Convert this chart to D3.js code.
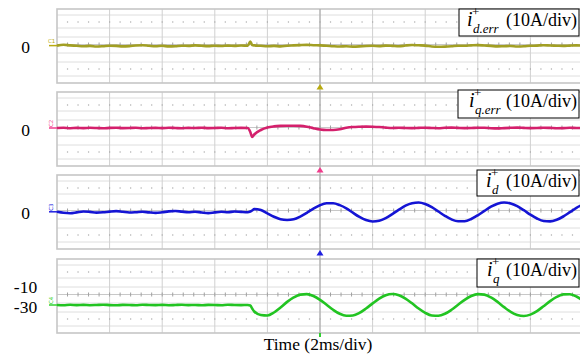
<!DOCTYPE html>
<html>
<head>
<meta charset="utf-8">
<script src="https://cdn.jsdelivr.net/npm/d3@7"></script>
<style>
  body { margin: 0; background: #fff; }
  svg { display: block; }
</style>
</head>
<body>
<div class="scope"></div>
<script>
const WIDTH = 580;
const HEIGHT = 356;

// sample times (ms), two extra samples around the load step
const time = [0, 0.25, 0.5, 0.75, 1, 1.25, 1.5, 1.75, 2, 2.25, 2.5, 2.75, 3, 3.25, 3.5, 3.75,
  4, 4.25, 4.5, 4.75, 5, 5.25, 5.5, 5.75, 6, 6.25, 6.5, 6.75, 7, 7.25, 7.35, 7.42,
  7.5, 7.75, 8, 8.25, 8.5, 8.75, 9, 9.25, 9.5, 9.75, 10, 10.25, 10.5, 10.75, 11, 11.25,
  11.5, 11.75, 12, 12.25, 12.5, 12.75, 13, 13.25, 13.5, 13.75, 14, 14.25, 14.5, 14.75,
  15, 15.25, 15.5, 15.75, 16, 16.25, 16.5, 16.75, 17, 17.25, 17.5, 17.75, 18, 18.25,
  18.5, 18.75, 19, 19.25, 19.5, 19.75, 20];

// currents (A)
const idErr = [0.4, 1.2, 0.6, 0.2, -0.3, 0.1, -0.5, -0.2, 0.3, 0.1, -0.4, -0.1, 0.5, 0.8, 0.2, -0.3,
  0.2, -0.4, -0.2, 0.3, 0.1, 0.6, 0.2, -0.1, 0.3, 0.0, 0.4, 0.1, 0.5, 0.2, 4.5, 1.0,
  0.6, 0.2, -0.3, 0.1, -0.4, 0.3, 0.6, 0.9, 1.1, 0.8, 0.6, 0.3, -0.2, -0.5, -0.3, -0.6,
  -0.4, 0.0, 0.2, -0.1, 0.4, 0.1, -0.3, 0.5, 1.0, 0.7, 0.4, -0.5, -0.8, -0.6,
  -0.2, 0.3, 0.2, 0.6, 0.9, 0.5, 0.1, -0.4, -0.2, 0.0, -0.5, -0.3, 0.2, 0.4,
  0.8, 0.5, 0.3, 0.1, 0.4, 0.6, 0.3];

const iqErr = [1.0, 1.3, 0.8, 1.1, 0.9, 1.2, 1.0, 0.7, 1.1, 1.3, 0.9, 1.0, 1.2, 0.8, 1.0, 1.1,
  0.9, 1.2, 1.0, 0.8, 1.1, 1.0, 1.3, 0.9, 1.0, 1.2, 0.8, 1.0, 1.1, 1.0, -3.0, -8.0,
  -5.5, -1.0, 1.5, 2.6, 3.1, 3.3, 3.3, 3.1, 2.3, 0.8, -0.5, -1.0, -1.0, -0.3, 1.2, 2.0,
  2.3, 2.4, 2.3, 2.0, 1.4, 1.0, 1.2, 1.0, 0.9, 1.1, 1.3, 1.0, 0.8, 1.2,
  1.4, 1.1, 0.9, 1.0, 1.3, 1.2, 0.8, 0.6, 0.9, 1.2, 1.4, 1.1, 0.9, 1.0,
  1.3, 1.1, 0.8, 0.9, 1.2, 1.0, 1.1];

const id = [0.2, -0.8, -1.2, -0.4, 0.5, 0.1, -0.6, -0.3, 0.4, 0.9, 0.2, -0.5, -0.2, 0.3, -0.4, -0.9,
  -0.3, 0.6, 1.0, 0.4, -0.2, 0.3, -0.5, -1.1, -0.4, 0.2, -0.3, 0.5, 0.1, -0.2, 0.5, 1.5,
  3.0, 2.0, -1.4, -4.7, -7.3, -8.0, -7.3, -4.6, -0.8, 3.3, 6.8, 8.7, 8.8, 6.9, 3.7, -0.7,
  -4.9, -8.1, -9.5, -8.8, -6.1, -2.1, 2.3, 6.3, 8.8, 9.5, 8.0, 4.8, 0.5, -3.8,
  -7.4, -9.3, -9.2, -7.0, -3.3, 1.1, 5.3, 8.3, 9.5, 8.6, 5.8, 1.8, -2.7, -6.5,
  -9.0, -9.4, -7.8, -4.5, -0.2, 4.2, 7.6];

const iq = [-29.0, -29.3, -28.8, -29.1, -28.9, -29.2, -29.0, -28.7, -29.1, -29.3, -28.9, -29.0, -29.2, -28.8, -29.0, -29.1,
  -28.9, -29.2, -29.0, -28.8, -29.1, -29.0, -29.3, -28.9, -29.0, -29.2, -28.8, -29.0, -29.1, -29.0, -29.5, -32.5,
  -35.5, -39.0, -39.5, -36.5, -31.5, -25.9, -21.4, -18.6, -18.1, -20.0, -23.8, -28.8, -33.8, -37.8, -39.8, -39.5,
  -36.9, -32.5, -27.4, -22.6, -19.2, -18.0, -19.2, -22.6, -27.3, -32.5, -36.8, -39.5, -39.8, -37.8,
  -33.8, -28.8, -23.8, -20.0, -18.1, -18.6, -21.4, -25.9, -31.1, -35.8, -39.0, -40.0, -38.6, -35.1,
  -30.2, -25.1, -20.9, -18.4, -18.2, -20.5, -24.6];

const series = [idErr, iqErr, id, iq];
const channels = ['C1', 'C2', 'C3', 'C4'];
const colors = ['#a29f24', '#d4206c', '#1414d4', '#22c422'];
const markerColors = ['#b8aa10', '#f03c8c', '#2020e0', '#30d030'];
const legendSubs = ['d.err', 'q.err', 'd', 'q'];
const yTicks = [[0], [0], [0], [-10, -30]];
const panelMid = [0, 0, 0, -20];   // value at the vertical middle of each panel

// layout
const LEFT = 57;
const PANEL_H = 74;
const panelTops = [9, 92, 175, 259];
const boxes = [
  {x: 459, y: 9, h: 27, ix: 467},
  {x: 458, y: 90, h: 28, ix: 469},
  {x: 477, y: 170, h: 26, ix: 486},
  {x: 477, y: 259, h: 28, ix: 487}
];
const SERIF = '"Liberation Serif", "Times New Roman", serif';

const svg = d3.select('.scope')
    .append('svg')
    .attr('width', WIDTH)
    .attr('height', HEIGHT);

const x = d3.scaleLinear().domain([0, 20]).range([LEFT, LEFT + 526]);
const majors = d3.range(0, 20.01, 2);
const minors = d3.range(0.4, 20, 0.4);

const yScales = panelTops.map((top, i) => {
  return d3.scaleLinear()
      .domain([panelMid[i] - 37, panelMid[i] + 37])
      .range([top + PANEL_H, top]);
});

// grid
panelTops.forEach((top, i) => {
  const g = svg.append('g');

  g.selectAll('.hline').data([6, 19, 28, 44, 53, 67]).enter().append('line')
      .attr('x1', LEFT).attr('x2', WIDTH)
      .attr('y1', (d) => top + d).attr('y2', (d) => top + d)
      .attr('stroke', '#dedede');

  g.selectAll('.vline').data(majors.slice(1)).enter().append('line')
      .attr('x1', (d) => x(d)).attr('x2', (d) => x(d))
      .attr('y1', top).attr('y2', top + PANEL_H)
      .attr('stroke', '#d0d0d0');

  [13, 60].forEach((off) => {
    g.selectAll(null).data(minors).enter().append('rect')
        .attr('x', (d) => x(d) - 0.6).attr('y', top + off - 0.6)
        .attr('width', 1.2).attr('height', 1.2)
        .attr('fill', '#a8a8a8');
  });

  // centre axis with ticks
  g.append('line')
      .attr('x1', LEFT).attr('x2', WIDTH)
      .attr('y1', top + 35.5).attr('y2', top + 35.5)
      .attr('stroke', '#c8c8c8');
  g.selectAll(null).data(minors).enter().append('line')
      .attr('x1', (d) => x(d)).attr('x2', (d) => x(d))
      .attr('y1', top + 33.5).attr('y2', top + 37.5)
      .attr('stroke', '#a0a0a0');

  g.append('rect')
      .attr('x', LEFT).attr('y', top)
      .attr('width', 540).attr('height', PANEL_H)
      .attr('fill', 'none')
      .attr('stroke', '#c6c6c6')
      .attr('stroke-width', 1.6);
});

// trigger line and markers
svg.append('line')
    .attr('x1', x(10)).attr('x2', x(10))
    .attr('y1', panelTops[0]).attr('y2', 334)
    .attr('stroke', '#a4a4a4');

[87, 170, 253].forEach((ty, i) => {
  svg.append('path')
      .attr('d', `M${x(10) - 3.5},${ty + 2.5}L${x(10) + 3.5},${ty + 2.5}L${x(10)},${ty - 3}Z`)
      .attr('fill', markerColors[i]);
});
svg.append('rect')
    .attr('x', x(10) - 1).attr('y', 333)
    .attr('width', 2).attr('height', 4)
    .attr('fill', markerColors[3]);

// traces
series.forEach((values, i) => {
  const y = yScales[i];
  const line = d3.line()
      .x((d, j) => x(time[j]))
      .y((d) => y(d))
      .curve(d3.curveMonotoneX);

  svg.append('path')
      .datum(values)
      .attr('d', line)
      .attr('fill', 'none')
      .attr('stroke', colors[i])
      .attr('stroke-width', 2.6)
      .attr('stroke-linejoin', 'round');

  // channel marker at the left edge
  const y0 = y(values[0]);
  svg.append('line')
      .attr('x1', 49).attr('x2', LEFT)
      .attr('y1', y0).attr('y2', y0)
      .attr('stroke', markerColors[i])
      .attr('stroke-width', 1.5);
  const lab = svg.append('text')
      .text(channels[i])
      .attr('font-family', 'DejaVu Sans, sans-serif')
      .attr('font-size', 5.5)
      .attr('fill', markerColors[i]);
  if (i === 0) {
    lab.attr('x', 48).attr('y', y0 - 3);
  } else {
    lab.attr('transform', `translate(${53},${y0 - 1}) rotate(-90)`);
  }
});

// y labels
yTicks.forEach((ticks, i) => {
  svg.selectAll(null).data(ticks).enter().append('text')
      .attr('x', 25.5)
      .attr('y', (d) => yScales[i](d) + 1)
      .attr('dy', '0.35em')
      .attr('text-anchor', 'middle')
      .attr('font-family', SERIF)
      .attr('font-size', 17.5)
      .attr('fill', '#000')
      .text((d) => d);
});

// legend boxes
boxes.forEach((b, i) => {
  const g = svg.append('g');
  g.append('rect')
      .attr('x', b.x).attr('y', b.y)
      .attr('width', 579 - b.x).attr('height', b.h)
      .attr('fill', '#fff')
      .attr('stroke', '#000')
      .attr('stroke-width', 1);
  const base = b.y + 17;
  const t = g.append('g')
      .attr('font-family', SERIF)
      .attr('fill', '#000');
  t.append('text')
      .attr('x', b.ix).attr('y', base)
      .attr('font-size', 20)
      .attr('font-style', 'italic')
      .text('i');
  t.append('text')
      .attr('x', b.ix + 5).attr('y', base - 10)
      .attr('font-size', 13)
      .text('+');
  t.append('text')
      .attr('x', b.ix + 6).attr('y', base + 6.5)
      .attr('font-size', 13)
      .attr('font-style', 'italic')
      .text(legendSubs[i]);
  t.append('text')
      .attr('x', 577).attr('y', base)
      .attr('text-anchor', 'end')
      .attr('font-size', 18)
      .text('(10A/div)');
});

// x label
svg.append('text')
    .attr('x', 318).attr('y', 350)
    .attr('text-anchor', 'middle')
    .attr('font-family', SERIF)
    .attr('font-size', 17.5)
    .attr('fill', '#000')
    .text('Time (2ms/div)');
</script>
</body>
</html>
